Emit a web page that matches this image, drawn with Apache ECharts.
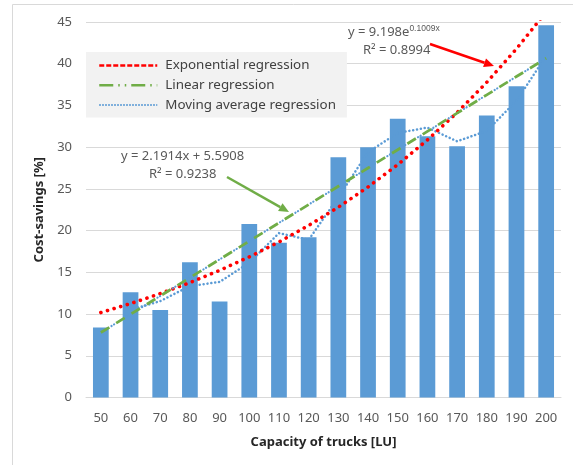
<!DOCTYPE html>
<html>
<head>
<meta charset="utf-8">
<script src="https://cdn.jsdelivr.net/npm/echarts@6/dist/echarts.min.js"></script>
<style>
  html, body { margin: 0; padding: 0; background: #fff; }
  #chart { width: 573px; height: 465px; }
</style>
</head>
<body>
<div id="chart"></div>
<script>
// Truck capacity categories [LU]
const categories = ['50', '60', '70', '80', '90', '100', '110', '120', '130', '140', '150', '160', '170', '180', '190', '200'];
// Cost savings per capacity [%]
const costSavings = [8.4, 12.6, 10.5, 16.2, 11.5, 20.8, 18.55, 19.2, 28.8, 30.0, 33.4, 31.3, 30.1, 33.8, 37.3, 44.6];
// Two-period moving average of the savings
const movingAverage = [null, 10.5, 11.55, 13.35, 13.85, 16.15, 19.7, 18.9, 24.0, 29.4, 31.7, 32.35, 30.7, 31.95, 35.55, 40.95];
// Fitted trend coefficients (x = 1 .. 16)
const expCoef = 9.198, expRate = 0.1009, expR2 = '0.8994';
const linSlope = 2.1914, linIntercept = 5.5908, linR2 = '0.9238';
const yTicks = { min: 0, max: 45, interval: 5 };

const expTrend = categories.map((_, i) => +(expCoef * Math.exp(expRate * (i + 1))).toFixed(3));
const linTrend = categories.map((_, i) => +(linSlope * (i + 1) + linIntercept).toFixed(3));

const FONT = 'Noto Sans';
const GRAY = '#595959';
const GRID = '#d9d9d9';
const NO_SYMBOL = { color: 'rgba(0,0,0,0)', borderWidth: 0, opacity: 0 };

function arrow(x1, y1, x2, y2, color) {
  const ang = Math.atan2(y2 - y1, x2 - x1);
  const len = 10, half = 4.5;
  const bx = x2 - len * Math.cos(ang), by = y2 - len * Math.sin(ang);
  const nx = -Math.sin(ang) * half, ny = Math.cos(ang) * half;
  return [
    { type: 'line', shape: { x1: x1, y1: y1, x2: bx, y2: by }, style: { stroke: color, lineWidth: 2.5 }, z: 20 },
    { type: 'polygon', shape: { points: [[x2, y2], [bx + nx, by + ny], [bx - nx, by - ny]] }, style: { fill: color }, z: 20 }
  ];
}

const chart = echarts.init(document.getElementById('chart'), null, { renderer: 'canvas' });
chart.setOption({
  animation: false,
  textStyle: { fontFamily: FONT },
  grid: { left: 86, right: 12, top: 22, bottom: 67.5 },
  legend: {
    orient: 'vertical',
    left: 86, top: 52,
    padding: [7, 11, 6, 12],
    backgroundColor: '#f2f2f2',
    itemWidth: 58, itemHeight: 12, itemGap: 6.8,
    textStyle: { fontFamily: FONT, fontSize: 13.4, color: '#404040', padding: [0, 0, 0, 3] },
    data: [
      { name: 'Exponential regression', itemStyle: NO_SYMBOL, lineStyle: { color: '#ff0000', width: 2.5, type: [5, 2], cap: 'butt' } },
      { name: 'Linear regression', itemStyle: NO_SYMBOL, lineStyle: { color: '#70ad47', width: 2.5, type: [14, 5, 1.5, 5, 1.5, 5], cap: 'butt' } },
      { name: 'Moving average regression', itemStyle: NO_SYMBOL, lineStyle: { color: '#5b9bd5', width: 2, type: [1.5, 1.5], cap: 'butt' } }
    ]
  },
  xAxis: {
    type: 'category',
    data: categories,
    axisLine: { lineStyle: { color: GRID, width: 1 } },
    axisTick: { show: false },
    axisLabel: { color: GRAY, fontSize: 13, margin: 14, fontFamily: FONT },
    name: 'Capacity of trucks [LU]',
    nameLocation: 'middle',
    nameGap: 38,
    nameTextStyle: { color: '#262626', fontSize: 13, fontWeight: 'bold', fontFamily: FONT }
  },
  yAxis: {
    type: 'value',
    min: yTicks.min, max: yTicks.max, interval: yTicks.interval,
    axisLine: { show: false },
    axisTick: { show: false },
    splitLine: { lineStyle: { color: GRID, width: 1 } },
    axisLabel: { color: GRAY, fontSize: 13, margin: 14, fontFamily: FONT },
    name: 'Cost-savings [%]',
    nameLocation: 'middle',
    nameGap: 27,
    nameTextStyle: { color: '#262626', fontSize: 13, fontWeight: 'bold', fontFamily: FONT }
  },
  series: [
    {
      name: 'Cost-savings',
      type: 'bar',
      data: costSavings,
      barWidth: '53%',
      itemStyle: { color: '#5b9bd5' },
      z: 2
    },
    {
      name: 'Moving average regression',
      type: 'line',
      data: movingAverage,
      symbol: 'none',
      connectNulls: false,
      itemStyle: { color: '#5b9bd5' },
      lineStyle: { color: '#5b9bd5', width: 2.5, type: [0.1, 3.8], cap: 'round' },
      z: 4
    },
    {
      name: 'Exponential regression',
      type: 'line',
      data: expTrend,
      symbol: 'none',
      clip: true,
      itemStyle: { color: '#ff0000' },
      lineStyle: { color: '#ff0000', width: 3.6, type: [0.1, 6.8], cap: 'round' },
      z: 5
    },
    {
      name: 'Linear regression',
      type: 'line',
      data: linTrend,
      symbol: 'none',
      itemStyle: { color: '#70ad47' },
      lineStyle: { color: '#70ad47', width: 2.8, type: [10, 8], cap: 'butt' },
      z: 6
    },
    {
      // dots filling the gaps of the dash-dot linear trend
      name: 'Linear regression dots',
      type: 'line',
      data: linTrend,
      symbol: 'none',
      lineStyle: { color: '#5b9bd5', width: 2.2, type: [0.1, 2.9, 0.1, 14.9], dashOffset: 5.5, cap: 'round' },
      z: 6
    }
  ],
  graphic: [
    { type: 'rect', shape: { x: 12.5, y: 4.5, width: 700, height: 700 }, style: { fill: 'none', stroke: GRID, lineWidth: 1 }, z: -1, silent: true },
    {
      type: 'text', left: 348, top: 24, z: 20,
      style: {
        text: 'y = 9.198e{sup|' + expRate + 'x}',
        fill: GRAY, font: '13px "' + FONT + '"',
        rich: { sup: { fontSize: 8.5, fill: GRAY, verticalAlign: 'top', padding: [0, 0, 7, 0] } }
      }
    },
    { type: 'text', left: 363, top: 44, z: 20, style: { text: 'R\u00B2 = ' + expR2, fill: GRAY, font: '13px "' + FONT + '"' } },
    { type: 'text', left: 121, top: 149.5, z: 20, style: { text: 'y = ' + linSlope + 'x + ' + linIntercept, fill: GRAY, font: '13px "' + FONT + '"' } },
    { type: 'text', left: 149, top: 168, z: 20, style: { text: 'R\u00B2 = ' + linR2, fill: GRAY, font: '13px "' + FONT + '"' } }
  ].concat(arrow(430, 44, 494, 66, '#ff0000')).concat(arrow(227, 177, 289, 212, '#70ad47'))
});
</script>
</body>
</html>
